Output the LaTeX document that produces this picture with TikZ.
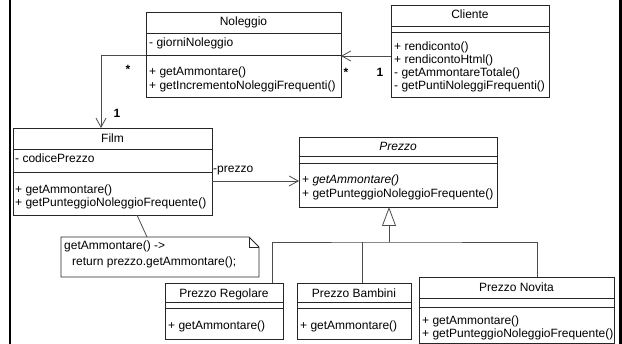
\documentclass[tikz,border=0pt]{standalone}
\usepackage{fontspec}
\setmainfont{Liberation Sans}
\usetikzlibrary{arrows.meta}
\begin{document}
\begin{tikzpicture}[x=1pt,y=-1pt,
  classbox/.style={draw=black!85, line width=0.9pt, fill=white, inner sep=0pt, anchor=north west},
  sepline/.style={draw=black!85, line width=0.9pt},
  txt/.style={inner sep=0pt, font=\fontsize{12}{14}\selectfont, text=black},
  ttl/.style={txt, anchor=base},
  mem/.style={txt, anchor=base west},
  mult/.style={txt, font=\fontsize{12}{14}\selectfont\bfseries},
  link/.style={draw=black!70, line width=0.8pt},
  nav/.style={link, -{Straight Barb[length=9pt,width=10pt,line width=0.8pt]}},
  gen/.style={link, -{Triangle[open,length=19pt,width=14pt,line width=0.8pt,fill=white]}}
]
\useasboundingbox (0,0) rectangle (622,344);
\fill[white] (0,0) rectangle (622,344);
% frame edges
\draw[line width=2pt] (10,0) -- (10,344);
\draw[line width=2.5pt] (620.5,0) -- (620.5,344);

% ---------- Noleggio ----------
\node[classbox, minimum width=195pt, minimum height=85pt] (noleggio) at (146,12) {};
\draw[sepline] (146,33) -- (341,33);
\draw[sepline] (146,55) -- (341,55);
\node[ttl] (noleggioT) at (243.5,26) {Noleggio};
\node[mem] (noleggioA) at (149,47) {- giorniNoleggio};
\node[mem] (noleggioM1) at (149,76) {+ getAmmontare()};
\node[mem] (noleggioM2) at (149,90) {+ getIncrementoNoleggiFrequenti()};

% ---------- Cliente ----------
\node[classbox, minimum width=158pt, minimum height=92pt] (cliente) at (391,5) {};
\draw[sepline] (391,26) -- (549,26);
\draw[sepline] (391,32) -- (549,32);
\node[ttl] (clienteT) at (470,19) {Cliente};
\node[mem] (clienteM1) at (394,51) {+ rendiconto()};
\node[mem] (clienteM2) at (394,64) {+ rendicontoHtml()};
\node[mem] (clienteM3) at (394,77) {- getAmmontareTotale()};
\node[mem] (clienteM4) at (394,90) {- getPuntiNoleggiFrequenti()};

% ---------- Film ----------
\node[classbox, minimum width=199pt, minimum height=87pt] (film) at (13,128) {};
\draw[sepline] (13,149) -- (212,149);
\draw[sepline] (13,172) -- (212,172);
\node[ttl] (filmT) at (112.5,143) {Film};
\node[mem] (filmA) at (15,163) {- codicePrezzo};
\node[mem] (filmM1) at (15,194) {+ getAmmontare()};
\node[mem] (filmM2) at (15,207) {+ getPunteggioNoleggioFrequente()};

% ---------- Prezzo (abstract) ----------
\node[classbox, minimum width=198pt, minimum height=70pt] (prezzo) at (299,137) {};
\draw[sepline] (299,156) -- (497,156);
\draw[sepline] (299,163) -- (497,163);
\node[ttl] (prezzoT) at (398,151) {\itshape Prezzo};
\node[mem] (prezzoM1) at (302,184) {+ \itshape getAmmontare()};
\node[mem] (prezzoM2) at (302,198) {+ getPunteggioNoleggioFrequente()};

% ---------- subclasses ----------
\node[classbox, minimum width=118pt, minimum height=56pt] (regolare) at (165,283) {};
\draw[sepline] (165,302) -- (283,302);
\draw[sepline] (165,308) -- (283,308);
\node[ttl] (regolareT) at (224,298) {Prezzo Regolare};
\node[mem] (regolareM) at (168,330) {+ getAmmontare()};

\node[classbox, minimum width=114pt, minimum height=56pt] (bambini) at (297,283) {};
\draw[sepline] (297,302) -- (411,302);
\draw[sepline] (297,308) -- (411,308);
\node[ttl] (bambiniT) at (354,298) {Prezzo Bambini};
\node[mem] (bambiniM) at (300,330) {+ getAmmontare()};

\node[classbox, minimum width=195pt, minimum height=66pt] (novita) at (419,277) {};
\draw[sepline] (419,298) -- (614,298);
\draw[sepline] (419,307) -- (614,307);
\node[ttl] (novitaT) at (516.5,292) {Prezzo Novita};
\node[mem] (novitaM1) at (422,325) {+ getAmmontare()};
\node[mem] (novitaM2) at (422,338) {+ getPunteggioNoleggioFrequente()};

% ---------- note ----------
\coordinate (noteNW) at (61,237);
\draw[sepline, fill=white] (noteNW) -- (249,237) -- (259,247) -- (259,277) -- (61,277) -- cycle;
\draw[sepline] (249,237) -- (249,247) -- (259,247);
\node[mem] (noteL1) at (64,250) {getAmmontare() ->};
\node[mem] (noteL2) at (72,266) {return prezzo.getAmmontare();};

% ---------- associations ----------
\coordinate (nolL) at (146,55);
\coordinate (filmTop) at (101,128);
\draw[nav] (nolL) -| (filmTop);
\node[mult] (multA) at (128,69) {*};
\node[mult] (multB) at (117,113) {1};

\coordinate (cliL) at (391,56);
\coordinate (nolR) at (341,56);
\draw[nav] (cliL) -- (nolR);
\node[mult] (multC) at (346,72) {*};
\node[mult] (multD) at (380,72) {1};

\coordinate (filmR) at (212,181);
\coordinate (prezzoL) at (299,181);
\draw[nav] (filmR) -- (prezzoL);
\node[txt, anchor=west] (roleP) at (213,171) {-prezzo};

\coordinate (filmB) at (137,215);
\coordinate (noteTop) at (147,237);
\draw[link] (filmB) -- (noteTop);

% ---------- generalization ----------
\coordinate (prezzoB) at (389,207);
\coordinate (genJ) at (389,242);
\draw[gen] (genJ) -- (prezzoB);
\coordinate (regTop) at (272,283);
\coordinate (bamTop) at (362,283);
\coordinate (novTop) at (537,277);
\draw[link] (regTop) |- (genJ) -| (novTop);
\draw[link] (bamTop) -- (bamTop |- genJ);
\end{tikzpicture}
\end{document}
